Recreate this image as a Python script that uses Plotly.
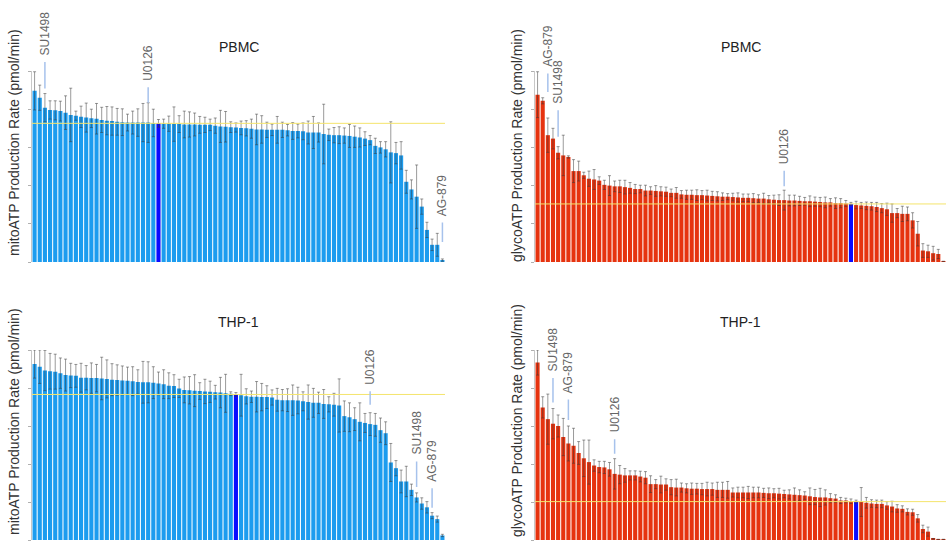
import plotly.graph_objects as go

# ---------------- data ----------------
ranks = list(range(1, 81))  # compound rank within each panel (sorted descending)

pbmc_mito = [448, 430, 404, 398, 397, 395, 391, 385, 383, 380,
             378, 376, 375, 372, 370, 369, 367, 366, 365, 365,
             365, 365, 365, 364, 363, 362, 362, 361, 361, 360,
             360, 360, 359, 359, 359, 357, 355, 354, 353, 352,
             351, 350, 349, 347, 347, 346, 346, 346, 346, 345,
             343, 343, 342, 339, 339, 339, 335, 333, 332, 332,
             331, 330, 328, 326, 323, 319, 304, 300, 295, 287,
             285, 279, 210, 190, 171, 145, 84, 45, 45, 5]
pbmc_mito_err = [50, 33, 37, 24, 25, 26, 44, 70, 12, 28,
                 38, 24, 40, 33, 37, 37, 35, 35, 22, 30,
                 36, 50, 52, 36, 10, 12, 20, 45, 22, 35,
                 33, 30, 22, 20, 15, 20, 42, 40, 14, 12,
                 18, 20, 25, 40, 36, 20, 15, 35, 20, 15,
                 22, 18, 22, 30, 42, 25, 78, 15, 20, 22,
                 20, 30, 28, 25, 18, 12, 20, 15, 20, 80,
                 28, 36, 30, 25, 83, 20, 20, 15, 30, 3]
pbmc_mito_ctrl = 25
pbmc_mito_labels = [("SU1498", 3), ("U0126", 23), ("AG-879", 80)]

pbmc_glyco = [438, 422, 332, 323, 286, 279, 275, 238, 238, 227,
              218, 216, 213, 202, 200, 198, 198, 196, 194, 191,
              191, 187, 187, 186, 185, 184, 181, 181, 177, 176,
              176, 175, 175, 174, 173, 172, 171, 171, 170, 169,
              168, 168, 167, 166, 166, 164, 163, 162, 162, 161,
              161, 160, 159, 159, 158, 157, 156, 156, 154, 154,
              153, 152, 149, 148, 147, 146, 144, 141, 138, 128,
              128, 126, 126, 109, 74, 30, 28, 23, 21, 1]
pbmc_glyco_err = [60, 8, 45, 27, 16, 53, 3, 30, 26, 8,
                  20, 26, 10, 12, 26, 14, 16, 18, 14, 12,
                  10, 14, 10, 14, 12, 12, 10, 14, 10, 12,
                  12, 14, 12, 14, 12, 12, 10, 8, 10, 12,
                  10, 10, 12, 10, 14, 10, 12, 14, 26, 14,
                  14, 12, 10, 14, 12, 12, 14, 10, 14, 12,
                  8, 4, 10, 8, 10, 10, 12, 12, 16, 24,
                  12, 20, 18, 20, 32, 18, 16, 18, 12, 1]
pbmc_glyco_ctrl = 62
pbmc_glyco_labels = [("AG-879", 3), ("SU1498", 5), ("U0126", 49)]

thp1_mito = [463, 456, 446, 444, 443, 439, 434, 433, 432, 427,
             427, 426, 426, 425, 424, 422, 421, 420, 419, 418,
             416, 415, 415, 414, 412, 410, 406, 405, 399, 395,
             394, 393, 392, 391, 390, 389, 388, 386, 385, 383,
             381, 378, 377, 377, 376, 376, 375, 369, 368, 368,
             368, 367, 365, 363, 361, 361, 358, 357, 356, 354,
             326, 323, 318, 311, 308, 305, 303, 289, 281, 204,
             189, 154, 154, 132, 112, 96, 86, 64, 55, 12]
thp1_mito_err = [37, 44, 53, 47, 46, 40, 42, 32, 30, 38,
                 32, 40, 36, 56, 50, 42, 40, 38, 36, 38,
                 32, 55, 54, 42, 30, 38, 34, 30, 24, 34,
                 36, 42, 22, 32, 28, 18, 40, 50, 5, 5,
                 55, 20, 15, 40, 36, 30, 20, 30, 28, 30,
                 40, 35, 25, 45, 38, 28, 38, 20, 30, 70,
                 40, 38, 30, 50, 25, 30, 30, 32, 30, 50,
                 20, 30, 40, 15, 12, 15, 15, 8, 8, 3]
thp1_mito_ctrl = 40
thp1_mito_labels = [("U0126", 66), ("SU1498", 75), ("AG-879", 78)]

thp1_glyco = [467, 349, 318, 306, 300, 271, 254, 248, 229, 215,
              205, 196, 192, 191, 186, 174, 172, 170, 170, 170,
              167, 164, 147, 147, 146, 146, 139, 138, 138, 136,
              135, 135, 134, 134, 134, 132, 132, 132, 125, 125,
              125, 125, 125, 125, 124, 123, 123, 122, 121, 120,
              119, 118, 117, 115, 113, 112, 112, 110, 109, 104,
              104, 102, 101, 100, 98, 96, 95, 95, 91, 88,
              83, 82, 74, 73, 57, 29, 22, 3, 1, 1]
thp1_glyco_err = [33, 28, 66, 40, 29, 49, 46, 46, 30, 48,
                  58, 15, 15, 16, 18, 40, 24, 18, 12, 12,
                  14, 16, 22, 12, 22, 15, 20, 22, 12, 12,
                  15, 14, 15, 18, 16, 20, 20, 22, 12, 14,
                  14, 16, 14, 14, 12, 14, 12, 14, 10, 12,
                  18, 14, 10, 22, 20, 24, 20, 12, 10, 8,
                  6, 6, 4, 38, 14, 10, 10, 10, 10, 14,
                  10, 8, 8, 8, 10, 10, 12, 1, 1, 1]
thp1_glyco_ctrl = 63
thp1_glyco_labels = [("SU1498", 4), ("AG-879", 7), ("U0126", 16)]

y_ticks = [0, 100, 200, 300, 400, 500]

# ---------------- styling ----------------
W, H = 946, 545
FONT = "Liberation Sans, Arial, Helvetica, sans-serif"
MITO = "#1c9cef"
GLYCO = "#e6330f"
CTRL = "#0a0aff"

# label placement (pixel offsets) per panel, same order as labels
label_style = {
    0: [(-60, 5), (-40, 0), (-64, 17)],
    1: [(-72, 26), (-65, 10), (-44, 4)],
    2: [(-46, 8), (-60, 6), (-52, 5)],
    3: [(-59, 6), (-54, 6), (-44, 5)],
}

panels = [
    dict(vals=pbmc_mito, err=pbmc_mito_err, ctrl=pbmc_mito_ctrl, color=MITO, title="PBMC",
         ytitle="mitoATP Production Rate (pmol/min)", labels=pbmc_mito_labels,
         xdom=[32 / W, 445 / W], ydom=[283 / H, 474 / H], ytx=14, yty=143, tty=47),
    dict(vals=pbmc_glyco, err=pbmc_glyco_err, ctrl=pbmc_glyco_ctrl, color=GLYCO, title="PBMC",
         ytitle="glycoATP Production Rate (pmol/min)", labels=pbmc_glyco_labels,
         xdom=[535 / W, 1.0], ydom=[283 / H, 474 / H], ytx=517, yty=146, tty=47),
    dict(vals=thp1_mito, err=thp1_mito_err, ctrl=thp1_mito_ctrl, color=MITO, title="THP-1",
         ytitle="mitoATP Production Rate (pmol/min)", labels=thp1_mito_labels,
         xdom=[32 / W, 445 / W], ydom=[5 / H, 195 / H], ytx=14, yty=422, tty=322),
    dict(vals=thp1_glyco, err=thp1_glyco_err, ctrl=thp1_glyco_ctrl, color=GLYCO, title="THP-1",
         ytitle="glycoATP Production Rate (pmol/min)", labels=thp1_glyco_labels,
         xdom=[535 / W, 1.0], ydom=[5 / H, 195 / H], ytx=517, yty=421, tty=322),
]

fig = go.Figure()
annotations = []
shapes = []
layout_axes = {}

for i, p in enumerate(panels):
    n = i + 1
    xa = "x" if n == 1 else f"x{n}"
    ya = "y" if n == 1 else f"y{n}"
    colors = [CTRL if r == p["ctrl"] else p["color"] for r in ranks]
    fig.add_trace(go.Bar(
        x=ranks, y=p["vals"], xaxis=xa, yaxis=ya,
        marker=dict(color=colors, line=dict(width=0)),
        error_y=dict(type="data", array=p["err"], visible=True,
                     color="rgba(55,55,55,0.5)", thickness=1, width=1.5),
        hoverinfo="x+y",
    ))
    xkey = "xaxis" if n == 1 else f"xaxis{n}"
    ykey = "yaxis" if n == 1 else f"yaxis{n}"
    layout_axes[xkey] = dict(domain=p["xdom"], anchor=ya, range=[0.5, 80.5],
                             showticklabels=False, showgrid=False, zeroline=False,
                             showline=False, ticks="")
    layout_axes[ykey] = dict(domain=p["ydom"], anchor=xa, range=[0, 500],
                             tickvals=y_ticks, showticklabels=False, showgrid=False,
                             zeroline=False, showline=True, linecolor="#c8c8c8",
                             linewidth=1, ticks="outside", ticklen=3, tickcolor="#b0b0b0")
    ctrl_val = p["vals"][ranks.index(p["ctrl"])]
    shapes.append(dict(type="line", xref=f"{xa} domain", x0=0, x1=1, yref=ya,
                       y0=ctrl_val, y1=ctrl_val, layer="above",
                       line=dict(color="#f4e46c", width=1)))
    # subplot title
    xc = (p["xdom"][0] + p["xdom"][1]) / 2
    annotations.append(dict(text=p["title"], xref="paper", yref="paper", x=xc,
                            y=1 - p["tty"] / H, showarrow=False,
                            xanchor="center", yanchor="middle",
                            font=dict(size=14, color="#222", family=FONT)))
    # y axis title
    annotations.append(dict(text=p["ytitle"], xref="paper", yref="paper",
                            x=p["ytx"] / W, y=1 - p["yty"] / H, textangle=-90,
                            showarrow=False, xanchor="center", yanchor="middle",
                            font=dict(size=14, color="#333", family=FONT)))
    # compound labels
    for (name, r), (ay, so) in zip(p["labels"], label_style[i]):
        k = ranks.index(r)
        annotations.append(dict(
            text=name, x=r, y=p["vals"][k] + p["err"][k], xref=xa, yref=ya,
            textangle=-90, showarrow=True, arrowhead=0, arrowwidth=1.5,
            arrowcolor="#a7c2ec", ax=0, ay=ay, standoff=so, borderpad=6,
            font=dict(size=12, color="#666", family=FONT)))

fig.update_layout(
    width=W, height=H,
    margin=dict(l=0, r=0, t=0, b=0),
    paper_bgcolor="white", plot_bgcolor="white",
    showlegend=False, bargap=0.2,
    font=dict(family=FONT),
    annotations=annotations, shapes=shapes,
    **layout_axes,
)

fig.write_html("out.html",
               config={"displayModeBar": False},
               post_script="document.body.style.margin='0';document.body.style.overflow='hidden';")
